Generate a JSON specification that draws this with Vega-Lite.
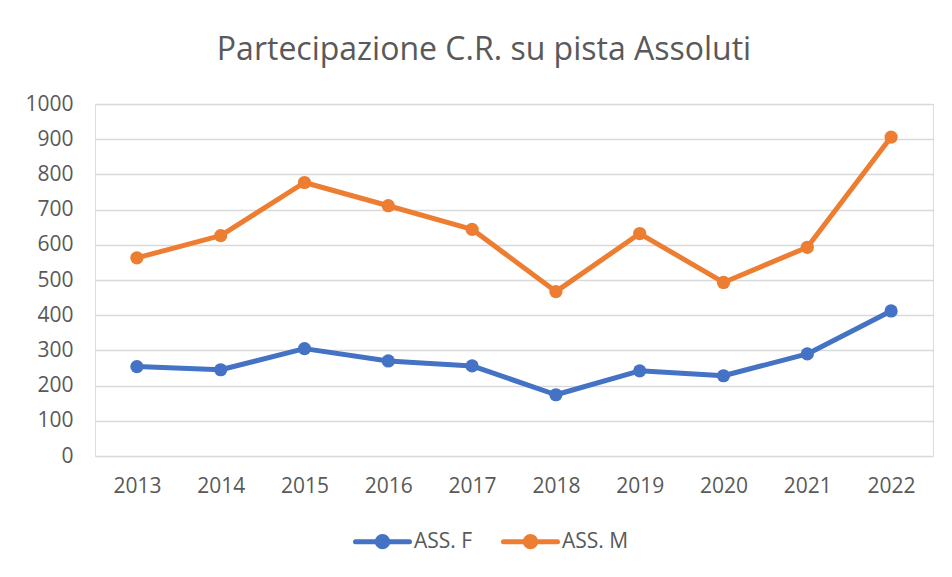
{
  "$schema": "https://vega.github.io/schema/vega-lite/v6.json",
  "width": 838,
  "height": 352,
  "autosize": {"type": "none"},
  "padding": {"left": 95, "top": 104, "right": 19, "bottom": 121},
  "background": "white",
  "title": {
    "text": "Partecipazione C.R. su pista Assoluti",
    "fontSize": 32,
    "font": "Open Sans",
    "fontWeight": "normal",
    "color": "#595959",
    "anchor": "middle",
    "frame": "group",
    "dx": -30,
    "offset": 26
  },
  "data": {
    "values": [
      {"year": "2013", "series": "ASS. F", "value": 254},
      {"year": "2014", "series": "ASS. F", "value": 245},
      {"year": "2015", "series": "ASS. F", "value": 305},
      {"year": "2016", "series": "ASS. F", "value": 270},
      {"year": "2017", "series": "ASS. F", "value": 256},
      {"year": "2018", "series": "ASS. F", "value": 174},
      {"year": "2019", "series": "ASS. F", "value": 242},
      {"year": "2020", "series": "ASS. F", "value": 228},
      {"year": "2021", "series": "ASS. F", "value": 290},
      {"year": "2022", "series": "ASS. F", "value": 412},
      {"year": "2013", "series": "ASS. M", "value": 563},
      {"year": "2014", "series": "ASS. M", "value": 626},
      {"year": "2015", "series": "ASS. M", "value": 777},
      {"year": "2016", "series": "ASS. M", "value": 711},
      {"year": "2017", "series": "ASS. M", "value": 644},
      {"year": "2018", "series": "ASS. M", "value": 467},
      {"year": "2019", "series": "ASS. M", "value": 632},
      {"year": "2020", "series": "ASS. M", "value": 493},
      {"year": "2021", "series": "ASS. M", "value": 593},
      {"year": "2022", "series": "ASS. M", "value": 906}
    ]
  },
  "encoding": {
    "x": {
      "field": "year",
      "type": "ordinal",
      "scale": {"type": "point", "padding": 0.5},
      "axis": {
        "title": null,
        "labelAngle": 0,
        "labelFont": "Open Sans",
        "labelFontSize": 21,
        "labelColor": "#595959",
        "labelPadding": 19,
        "ticks": false,
        "domain": false,
        "grid": false
      }
    },
    "y": {
      "field": "value",
      "type": "quantitative",
      "scale": {"domain": [0, 1000], "nice": false},
      "axis": {
        "title": null,
        "values": [0, 100, 200, 300, 400, 500, 600, 700, 800, 900, 1000],
        "format": "d",
        "labelFont": "Open Sans",
        "labelFontSize": 21,
        "labelColor": "#595959",
        "labelPadding": 22,
        "ticks": false,
        "domain": false,
        "grid": true,
        "gridColor": "#D9D9D9",
        "gridWidth": 1.5
      }
    },
    "color": {
      "field": "series",
      "type": "nominal",
      "scale": {"domain": ["ASS. F", "ASS. M"], "range": ["#4472C4", "#ED7D31"]},
      "legend": {
        "title": null,
        "orient": "none",
        "direction": "horizontal",
        "legendX": 258,
        "legendY": 408,
        "labelFont": "Open Sans",
        "labelFontSize": 21,
        "labelColor": "#595959",
        "labelOffset": 2,
        "columnPadding": 20,
        "symbolType": "M-1,0L1,0M0.19,0A0.19,0.19,0,1,1,-0.19,0A0.19,0.19,0,1,1,0.19,0Z",
        "symbolSize": 2916,
        "symbolStrokeWidth": 5,
        "encode": {
          "symbols": {
            "update": {
              "fill": {"scale": "color", "field": "value"},
              "stroke": {"scale": "color", "field": "value"},
              "strokeCap": {"value": "round"},
              "fillOpacity": {"value": 1},
              "opacity": {"value": 1}
            }
          }
        }
      }
    }
  },
  "layer": [
    {"mark": {"type": "line", "strokeWidth": 5, "strokeJoin": "round", "strokeCap": "round"}},
    {"mark": {"type": "point", "filled": true, "size": 175, "opacity": 1, "shape": "circle"}}
  ]
}
